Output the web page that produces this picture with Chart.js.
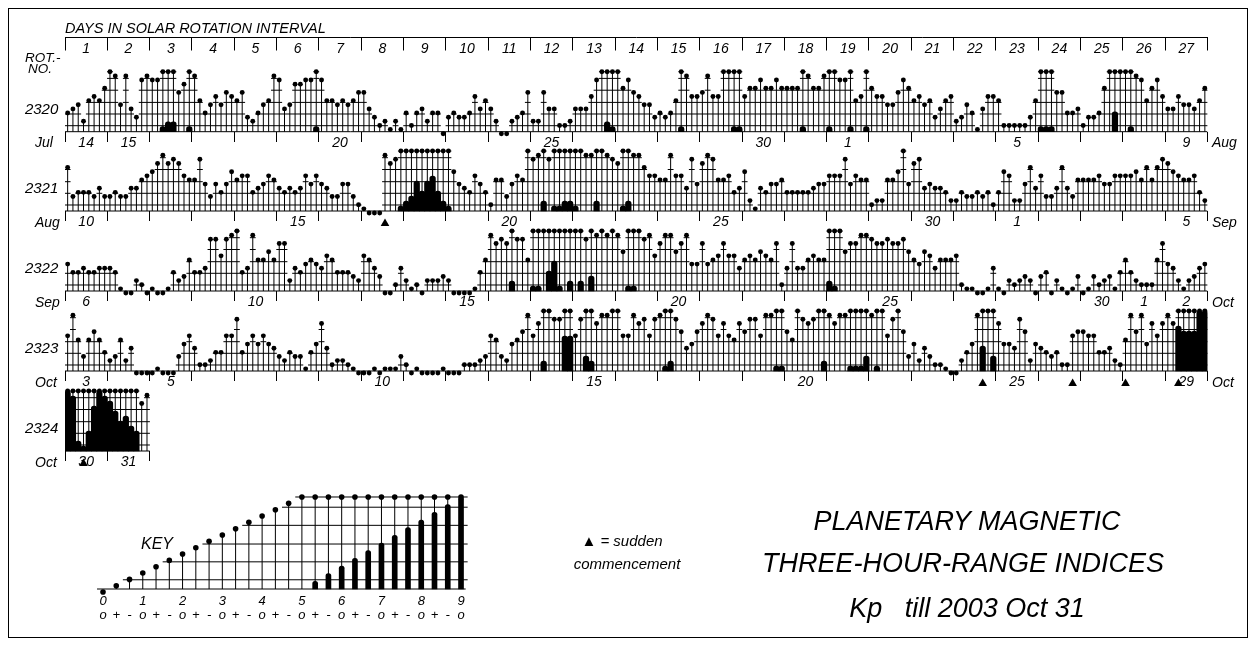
<!DOCTYPE html>
<html>
<head>
<meta charset="utf-8">
<title>Planetary magnetic three-hour-range indices Kp</title>
<script src="https://cdn.jsdelivr.net/npm/chart.js@4.4.1/dist/chart.umd.min.js"></script>
<style>
  html, body { margin: 0; padding: 0; background: #fff; }
  #page { position: relative; width: 1255px; height: 645px; overflow: hidden; background: #fff;
          font-family: "Liberation Sans", Arial, sans-serif; font-style: italic; color: #000; }
  #frame { position: absolute; left: 8px; top: 8px; width: 1240px; height: 630px;
           border: 1px solid #000; box-sizing: border-box; }
  #kp { position: absolute; left: 0; top: -20px; }
  .lbl { position: absolute; white-space: pre; line-height: 1; }
  .mid { transform: translate(-50%, -50%); }
  .lft { transform: translateY(-50%); }
</style>
</head>
<body>
<div id="page">
  <div id="frame"></div>
  <canvas id="kp" width="1255" height="685"></canvas>
  <div class="lbl lft" style="left:65px;top:27.5px;font-size:14.5px">DAYS IN SOLAR ROTATION INTERVAL</div>
  <div class="lbl lft" style="left:25px;top:58px;font-size:13.5px">ROT.-</div>
  <div class="lbl lft" style="left:28px;top:68.5px;font-size:13.5px">NO.</div>
  <div class="lbl mid" style="left:157px;top:544px;font-size:16px">KEY</div>
  <div class="lbl mid" style="left:622px;top:540px;font-size:15px">▲ = sudden</div>
  <div class="lbl mid" style="left:627px;top:563px;font-size:15px">commencement</div>
  <div class="lbl mid" style="left:967px;top:521px;font-size:27px">PLANETARY MAGNETIC</div>
  <div class="lbl mid" style="left:963px;top:563px;font-size:27px">THREE-HOUR-RANGE INDICES</div>
  <div class="lbl mid" style="left:967px;top:608px;font-size:27px">Kp   till 2003 Oct 31</div>
</div>
<script>
// Kp values in thirds of a unit: 0 = 0o, 1 = 0+, 2 = 1-, 3 = 1o, ... 15 = 5o, ... 27 = 9o.
// One inner array per day, eight three-hour intervals each.
const kp2320 = [
  [5,6,7,3,8,9,8,11],[15,14,7,14,6,4,13,14],[13,13,16,17,17,10,12,16],[14,8,5,7,9,7,10,9],
  [8,10,4,3,5,7,8,14],[13,6,7,12,12,13,13,16],[13,8,8,7,8,7,8,10],[10,6,4,2,3,1,3,1],
  [5,2,5,6,3,5,5,0],[4,5,4,4,5,9,6,8],[6,3,0,0,3,4,5,10],[3,3,10,6,6,2,2,3],
  [6,6,6,9,13,15,17,16],[15,11,13,10,9,7,7,4],[5,4,5,8,16,14,9,9],[10,14,9,9,15,15,16,16],
  [9,11,11,13,11,11,13,11],[11,11,11,16,14,11,11,14],[16,15,13,13,16,8,9,16],[11,9,9,7,7,10,13,11],
  [8,9,7,8,4,6,8,9],[3,4,7,5,1,6,9,9],[8,2,2,2,2,2,4,8],[16,16,16,10,10,5,5,6],
  [2,4,4,5,11,15,19,15],[15,16,14,13,8,11,13,9],[6,6,9,7,7,6,8,11]
];
const kp2321 = [
  [11,4,5,5,5,4,6,4],[4,5,4,4,6,6,8,9],[10,12,14,12,13,12,9,8],[8,13,7,4,7,5,7,10],
  [8,9,9,5,6,7,9,8],[6,5,6,5,6,9,7,9],[7,6,4,4,7,7,4,2],[1,0,0,0,14,12,13,16],
  [17,18,21,19,21,22,19,17],[16,10,7,6,5,9,7,5],[2,8,8,4,7,9,8,15],[13,14,17,13,16,16,17,17],
  [16,15,14,14,17,15,14,13],[12,16,17,14,14,11,9,9],[8,8,14,9,9,6,13,7],[12,14,13,8,8,9,5,6],
  [10,3,1,6,5,7,7,8],[5,5,5,5,5,6,7,7],[9,9,9,13,7,9,8,8],[2,3,3,8,8,10,15,7],
  [12,13,6,7,6,6,5,3],[3,5,4,4,5,4,5,2],[5,10,9,3,3,7,11,6],[9,4,4,6,11,6,4,8],
  [8,8,8,9,7,7,9,9],[9,9,10,8,11,8,11,13],[12,10,9,8,8,9,5,3]
];
const kp2322 = [
  [7,5,5,6,5,5,6,6],[6,5,1,0,0,3,2,0],[1,0,0,1,5,3,4,8],[5,5,6,13,13,9,13,14],
  [15,5,6,14,8,8,10,8],[12,12,3,6,5,7,8,7],[6,9,8,5,5,5,4,3],[9,8,6,4,0,0,2,6],
  [3,1,2,0,3,3,3,4],[3,0,0,0,0,1,5,8],[14,12,13,12,17,13,13,8],[16,16,15,19,21,16,15,17],
  [15,17,13,18,14,15,14,15],[14,10,16,16,15,13,14,9],[12,14,14,10,12,14,7,7],[12,7,8,9,12,9,9,6],
  [8,9,8,10,9,8,12,2],[6,12,6,6,8,9,8,8],[17,16,15,10,12,12,14,14],[13,12,12,13,12,12,13,10],
  [8,7,10,9,6,8,8,8],[9,2,1,1,0,0,1,6],[1,0,3,2,3,4,3,0],[4,5,0,3,1,0,1,4],
  [0,1,4,2,3,4,1,5],[8,5,3,2,2,2,8,12],[7,6,3,1,3,4,6,7]
];
const kp2323 = [
  [9,14,8,4,8,10,8,5],[3,4,8,3,6,0,0,0],[0,1,0,0,0,4,7,9],[6,2,2,3,5,5,9,9],
  [13,5,7,9,7,9,7,6],[4,3,5,4,4,1,5,7],[12,6,2,3,3,2,1,0],[0,0,1,0,1,1,1,4],
  [2,0,1,0,0,0,0,1],[0,0,0,2,2,2,3,4],[9,8,4,3,7,8,10,14],[9,12,17,15,13,13,22,22],
  [9,13,18,17,12,14,14,15],[15,9,9,14,12,13,9,13],[14,16,17,13,10,6,7,10],[12,14,13,9,12,9,8,12],
  [10,13,13,9,14,14,16,16],[10,8,15,13,12,13,15,17],[14,12,14,14,16,16,16,18],[14,16,15,9,13,15,10,4],
  [7,3,6,4,2,2,1,0],[0,3,5,7,14,20,15,18],[12,7,7,6,13,10,3,7],[6,5,4,5,2,2,9,10],
  [10,9,9,5,5,6,3,2],[8,14,10,14,7,12,9,12],[14,12,24,23,23,23,27,27]
];
const kp2324 = [
  [27,26,17,16,19,24,27,26],[25,23,21,22,20,19,12,14]
];

// Sudden commencements: three-hour interval index within the rotation.
const ssc2320 = [];
const ssc2321 = [60];
const ssc2322 = [];
const ssc2323 = [173, 190, 200, 210];
const ssc2324 = [3];

// Day-of-month labels under each rotation: [day index within rotation, label].
const dates2320 = [[0,'14'],[1,'15'],[6,'20'],[11,'25'],[16,'30'],[18,'1'],[22,'5'],[26,'9']];
const dates2321 = [[0,'10'],[5,'15'],[10,'20'],[15,'25'],[20,'30'],[22,'1'],[26,'5']];
const dates2322 = [[0,'6'],[4,'10'],[9,'15'],[14,'20'],[19,'25'],[24,'30'],[25,'1'],[26,'2']];
const dates2323 = [[0,'3'],[2,'5'],[7,'10'],[12,'15'],[17,'20'],[22,'25'],[26,'29']];
const dates2324 = [[0,'30'],[1,'31']];

const rotationNumbers = ['2320', '2321', '2322', '2323', '2324'];
const monthsLeft  = ['Jul', 'Aug', 'Sep', 'Oct', 'Oct'];
const monthsRight = ['Aug', 'Sep', 'Oct', 'Oct', ''];
const dayNumbers = ['1','2','3','4','5','6','7','8','9','10','11','12','13','14','15','16','17','18',
                    '19','20','21','22','23','24','25','26','27'];

// Key: every step from 0o to 9o.
const keyValues = [0,1,2,3,4,5,6,7,8,9,10,11,12,13,14,15,16,17,18,19,20,21,22,23,24,25,26,27];
const keyDigits = ['0','','','1','','','2','','','3','','','4','','','5','','','6','','','7','','','8','','','9'];
const keySigns  = ['o','+','-','o','+','-','o','+','-','o','+','-','o','+','-','o','+','-','o','+','-','o','+','-','o','+','-','o'];

// ---------------- geometry ----------------
const W = 1255, H = 645, MARGIN_Y = 20;          // canvas extends MARGIN_Y above and below the page
const PLOT_LEFT = 65, PLOT_RIGHT = 1207.5;
const PER_DAY = 8, DAYS = 27, SLOTS = PER_DAY * DAYS;
const ROW_BASE = [131.7, 211, 291, 371, 451];   // baseline pixel of each rotation row
const PX_THIRD = 4.13;                           // row pixels per third of a Kp unit
const BASE_T = 2 / PX_THIRD;                     // baseline level (0o hangs just below it)
const CAP = 15;                                  // dots stop at 5o, higher values grow bars
const BAR_GAIN = (CAP - BASE_T) / 12;            // a 9o bar reaches the top level
const STAFF = [1.94, 4.77, 7.58, 10.53, 13.39, 15];
const ROT_X = -1.27;                             // rotation number anchor (x units)
const ROT_RISE = 21.7;                           // rotation number height above baseline (px)
const HEADER_PX = 37.7;                          // day-number ruler line
const SSC_DROP = 12.4;                           // triangle centre below baseline (px)

const KEY_X0 = 103, KEY_DX = 13.26, KEY_BASE = 589, KEY_PX_THIRD = 6.338;

const FONT = '"Liberation Sans", Arial, sans-serif';
const italic = (size, lineHeight) => ({ family: FONT, size, style: 'italic', lineHeight: lineHeight || 1.2 });

const allKp = [kp2320, kp2321, kp2322, kp2323, kp2324];
const allSsc = [ssc2320, ssc2321, ssc2322, ssc2323, ssc2324];
const allDates = [dates2320, dates2321, dates2322, dates2323, dates2324];

// Build dots, stems, storm bars and staff segments for a run of values.
function marks(values, xPos, ext, baseFrom, baseTo) {
  const dots = [], stems = [], bars = [], staff = [];
  values.forEach((t, i) => {
    const x = xPos(i), top = Math.min(t, CAP);
    dots.push({ x, y: top });
    if (top > BASE_T) stems.push({ x, y: BASE_T }, { x, y: top }, { x, y: null });
    if (t > CAP) bars.push({ x, y: [BASE_T, BASE_T + (t - CAP) * BAR_GAIN] });
  });
  STAFF.forEach(level => {
    let start = -1;
    for (let i = 0; i <= values.length; i++) {
      const on = i < values.length && Math.min(values[i], CAP) >= level - 0.1;
      if (on && start < 0) start = i;
      if (!on && start >= 0) {
        const x0 = xPos(start) - ext, x1 = xPos(i - 1) + ext;
        staff.push({ x: x0, y: level }, { x: x1, y: level }, { x: x1, y: null });
        start = -1;
      }
    }
  });
  staff.push({ x: baseFrom, y: BASE_T }, { x: baseTo, y: BASE_T }, { x: baseTo, y: null });
  return { dots, stems, bars, staff };
}

function layerSets(m, xId, yId, dotR, barW) {
  return [
    { type: 'scatter', data: m.dots, xAxisID: xId, yAxisID: yId, order: 0,
      pointRadius: dotR, pointBackgroundColor: '#000', pointBorderWidth: 0 },
    { type: 'bar', data: m.bars, xAxisID: xId, yAxisID: yId, order: 1, grouped: false,
      barThickness: barW, backgroundColor: '#000', borderSkipped: 'start',
      borderRadius: { topLeft: barW / 2, topRight: barW / 2, bottomLeft: 0, bottomRight: 0 } },
    { type: 'line', data: m.stems, xAxisID: xId, yAxisID: yId, order: 2,
      borderColor: '#000', borderWidth: 1, pointRadius: 0, spanGaps: false },
    { type: 'line', data: m.staff, xAxisID: xId, yAxisID: yId, order: 3,
      borderColor: '#000', borderWidth: 1, pointRadius: 0, spanGaps: false }
  ];
}

// A horizontal value axis that carries data but draws nothing itself.
const quietX = (min, max, anchor) => ({
  type: 'linear', axis: 'x', min, max, offset: false, position: anchor,
  grid: { display: false, drawTicks: false, offset: false }, border: { display: false },
  ticks: { display: false }
});

const datasets = [];
const scales = {
  x: quietX(0, SLOTS, { y0: BASE_T }),
  xk: quietX(-(KEY_X0 - PLOT_LEFT) / KEY_DX, (PLOT_RIGHT - KEY_X0) / KEY_DX, { yk: BASE_T }),
  yk: { type: 'linear', axis: 'y', display: false, offset: false,
        min: BASE_T - (H - KEY_BASE) / KEY_PX_THIRD, max: BASE_T + KEY_BASE / KEY_PX_THIRD }
};

allKp.forEach((days, r) => {
  const values = days.flat();
  const yId = 'y' + r;
  const base = ROW_BASE[r];
  const m = marks(values, i => i + 0.5, 0.55, 0, values.length);
  datasets.push(...layerSets(m, 'x', yId, 2.45, 5.6));
  datasets.push({ type: 'scatter', xAxisID: 'x', yAxisID: yId, order: 0,
    data: allSsc[r].map(i => ({ x: i + 0.5, y: BASE_T - SSC_DROP / PX_THIRD })),
    pointStyle: 'triangle', pointRadius: 5, pointBackgroundColor: '#000', pointBorderWidth: 0 });

  scales[yId] = {
    type: 'linear', axis: 'y', offset: false,
    min: BASE_T - (H - base) / PX_THIRD, max: BASE_T + base / PX_THIRD,
    position: { x: ROT_X },
    grid: { display: false, drawTicks: false }, border: { display: false },
    afterBuildTicks: s => { s.ticks = [{ value: BASE_T + ROT_RISE / PX_THIRD }]; },
    ticks: { autoSkip: false, padding: 0, color: '#000', font: italic(15),
             callback: () => rotationNumbers[r] }
  };

  const nDays = days.length;
  const dateMap = new Map(allDates[r].map(([d, s]) => [d * PER_DAY + PER_DAY / 2, s]));
  scales['xd' + r] = {
    type: 'linear', axis: 'x', min: 0, max: SLOTS, offset: false,
    position: { [yId]: BASE_T },
    border: { display: false },
    grid: { drawOnChartArea: false, drawTicks: true, tickLength: 10, tickWidth: 1, offset: false,
            color: '#000',
            tickColor: c => (c.tick && c.tick.value % PER_DAY === 0) ? '#000' : 'rgba(0,0,0,0)' },
    afterBuildTicks: s => {
      const t = [];
      for (let d = 0; d <= nDays; d++) {
        t.push({ value: d * PER_DAY });
        if (d < nDays) t.push({ value: d * PER_DAY + PER_DAY / 2 });
      }
      s.ticks = t;
    },
    ticks: { autoSkip: false, maxRotation: 0, minRotation: 0, padding: -7, color: '#000',
             font: italic(14), callback: v => dateMap.get(v) || '' }
  };
});

// Day-number ruler above the first rotation.
const headerValue = BASE_T + (ROW_BASE[0] - HEADER_PX) / PX_THIRD;
scales.xh1 = {
  type: 'linear', axis: 'x', min: 0, max: SLOTS, offset: false, position: { y0: headerValue },
  border: { display: true, color: '#000', width: 1 },
  grid: { drawOnChartArea: false, tickLength: 12.5, color: '#000', tickColor: '#000', offset: false },
  afterBuildTicks: s => { s.ticks = dayNumbers.concat(['']).map((_, d) => ({ value: d * PER_DAY })); },
  ticks: { autoSkip: false, maxRotation: 0, minRotation: 0, callback: () => '' }
};
scales.xh2 = {
  type: 'linear', axis: 'x', min: 0, max: SLOTS, offset: false, position: { y0: headerValue },
  border: { display: false }, grid: { display: false, drawTicks: false },
  afterBuildTicks: s => { s.ticks = dayNumbers.map((_, d) => ({ value: d * PER_DAY + PER_DAY / 2 })); },
  ticks: { autoSkip: false, maxRotation: 0, minRotation: 0, padding: 2.8, color: '#000',
           font: italic(14), callback: (v, i) => dayNumbers[i] }
};

// Key.
const km = marks(keyValues, i => i, 0.5, -0.45, keyValues.length - 0.65);
datasets.push(...layerSets(km, 'xk', 'yk', 2.8, 5));
scales.xkl = {
  type: 'linear', axis: 'x', min: scales.xk.min, max: scales.xk.max, offset: false,
  position: { yk: BASE_T },
  border: { display: false }, grid: { display: false, drawTicks: false },
  afterBuildTicks: s => { s.ticks = keyValues.map((_, i) => ({ value: i })); },
  ticks: { autoSkip: false, maxRotation: 0, minRotation: 0, padding: 4.8, color: '#000',
           font: italic(13, 1.1), callback: (v, i) => [keyDigits[i], keySigns[i]] }
};

new Chart(document.getElementById('kp'), {
  type: 'scatter',
  data: { datasets },
  options: {
    responsive: false, animation: false, devicePixelRatio: 1, events: [],
    layout: { padding: { left: PLOT_LEFT, right: W - PLOT_RIGHT, top: MARGIN_Y, bottom: MARGIN_Y } },
    plugins: { legend: { display: false }, tooltip: { enabled: false } },
    scales
  }
});

// Month names at both ends of each rotation row.
const page = document.getElementById('page');
ROW_BASE.forEach((base, r) => {
  [[monthsLeft[r], 35], [monthsRight[r], 1212]].forEach(([txt, left]) => {
    if (!txt) return;
    const el = document.createElement('div');
    el.className = 'lbl lft';
    el.style.cssText = `left:${left}px;top:${base + 10.5}px;font-size:14px`;
    el.textContent = txt;
    page.appendChild(el);
  });
});
</script>
</body>
</html>
